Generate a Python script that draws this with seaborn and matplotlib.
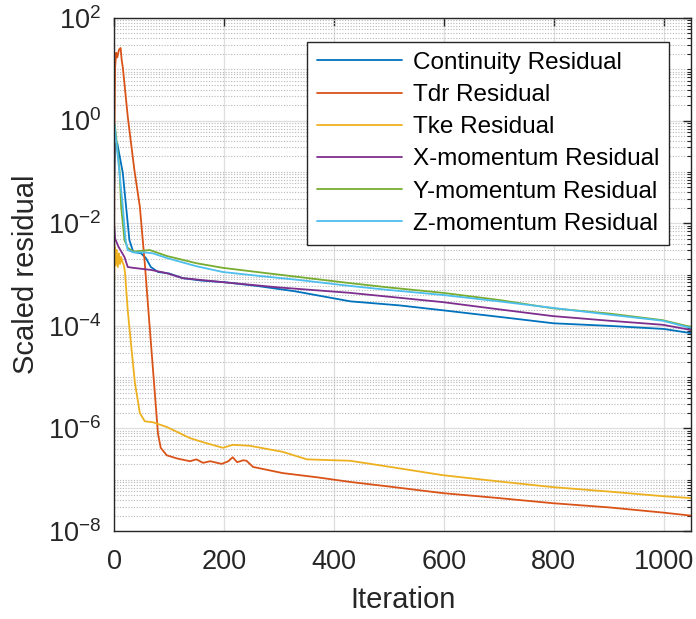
import numpy as np
import pandas as pd
import matplotlib
matplotlib.use("Agg")
import matplotlib.pyplot as plt
import seaborn as sns
from matplotlib.ticker import LogLocator, FixedLocator, LogFormatterMathtext, NullFormatter

# ---------------- data ----------------
series_names = ["Continuity Residual", "Tdr Residual", "Tke Residual",
                "X-momentum Residual", "Y-momentum Residual", "Z-momentum Residual"]
series_colors = ["#0072BD", "#D95319", "#EDB120", "#7E2F8E", "#77AC30", "#4DBEEE"]

cont_iter = [0, 2, 6, 16, 22, 28, 35, 49, 58, 67, 80, 100, 125, 160, 200, 260, 330, 430,
             520, 600, 700, 800, 900, 1000, 1050]
cont_val = [3e-2, 0.35, 0.36, 0.095, 0.021, 4.7e-3, 2.75e-3, 2.6e-3, 2.1e-3, 1.4e-3, 1.12e-3,
            1.05e-3, 8.5e-4, 7.6e-4, 7.1e-4, 6.0e-4, 4.7e-4, 3.0e-4, 2.5e-4, 2.0e-4, 1.5e-4,
            1.12e-4, 1.0e-4, 8.7e-5, 7.2e-5]

tdr_iter = [0, 1, 2, 4, 6, 9, 12, 14, 16, 25, 37, 47, 56, 64, 72, 80, 85, 96, 115, 138, 150,
            162, 175, 196, 208, 216, 224, 235, 241, 253, 307, 369, 429, 500, 598, 700, 798,
            900, 998, 1050]
tdr_val = [3e-4, 1.0, 11, 21, 17, 24, 26, 15, 11, 1.2, 0.11, 0.021, 1.66e-3, 1.26e-4, 1.0e-5,
           7.9e-7, 4.2e-7, 3.0e-7, 2.6e-7, 2.3e-7, 2.5e-7, 2.14e-7, 2.3e-7, 2.04e-7, 2.3e-7,
           2.75e-7, 2.2e-7, 2.4e-7, 2.35e-7, 1.78e-7, 1.35e-7, 1.12e-7, 9.1e-8, 7.4e-8, 5.5e-8,
           4.4e-8, 3.5e-8, 2.9e-8, 2.3e-8, 2.0e-8]

tke_iter = [0, 1, 3, 5, 7, 9, 11, 13, 15, 18, 20, 25, 29, 38, 47, 56, 71, 96, 138, 162, 198,
            216, 247, 307, 351, 429, 500, 598, 700, 798, 900, 998, 1050]
tke_val = [3e-4, 3.5e-3, 1.5e-3, 3.0e-3, 1.4e-3, 2.6e-3, 1.6e-3, 2.2e-3, 1.8e-3, 1.5e-3, 1.1e-3,
           2.0e-4, 7.2e-5, 7.8e-6, 2.0e-6, 1.38e-6, 1.32e-6, 1.07e-6, 6.5e-7, 5.4e-7, 4.2e-7,
           4.8e-7, 4.6e-7, 3.5e-7, 2.5e-7, 2.35e-7, 1.8e-7, 1.23e-7, 9.3e-8, 7.2e-8, 5.9e-8,
           4.8e-8, 4.4e-8]

xm_iter = [0, 2, 8, 19, 25, 35, 67, 95, 125, 198, 300, 429, 598, 700, 798, 900, 998, 1050]
xm_val = [1.0e-2, 5e-3, 3.5e-3, 2.2e-3, 1.4e-3, 1.35e-3, 1.23e-3, 1.07e-3, 8.5e-4, 7.1e-4,
          5.6e-4, 4.4e-4, 2.9e-4, 2.1e-4, 1.55e-4, 1.26e-4, 1.05e-4, 8.3e-5]

ym_iter = [0, 3, 10, 13, 19, 25, 35, 50, 65, 96, 150, 198, 260, 338, 429, 500, 598, 700, 798,
           900, 998, 1050]
ym_val = [1.0, 0.6, 0.11, 0.021, 4.7e-3, 3.3e-3, 2.8e-3, 2.9e-3, 3.0e-3, 2.3e-3, 1.66e-3,
          1.35e-3, 1.12e-3, 8.9e-4, 6.8e-4, 5.6e-4, 4.4e-4, 3.2e-4, 2.2e-4, 1.74e-4, 1.29e-4,
          9.5e-5]

zm_iter = [0, 3, 10, 16, 21, 25, 35, 53, 70, 96, 150, 198, 260, 338, 429, 500, 598, 700, 798,
           900, 998, 1050]
zm_val = [1.0, 0.5, 0.095, 0.021, 4.7e-3, 3.0e-3, 2.7e-3, 2.7e-3, 2.6e-3, 2.1e-3, 1.45e-3,
          1.12e-3, 9.5e-4, 7.8e-4, 6.0e-4, 5.0e-4, 4.0e-4, 3.0e-4, 2.24e-4, 1.66e-4, 1.26e-4,
          9.1e-5]

x_ticks = [0, 200, 400, 600, 800, 1000]
y_ticks = [1e-8, 1e-6, 1e-4, 1e-2, 1e0, 1e2]

# ---------------- build long table ----------------
all_iters = [cont_iter, tdr_iter, tke_iter, xm_iter, ym_iter, zm_iter]
all_vals = [cont_val, tdr_val, tke_val, xm_val, ym_val, zm_val]
frames = []
for name, it, v in zip(series_names, all_iters, all_vals):
    frames.append(pd.DataFrame({"Iteration": it, "Residual": v, "Series": name}))
df = pd.concat(frames, ignore_index=True)

# ---------------- plot ----------------
sns.set_theme(style="white")
plt.rcParams["font.family"] = ["Liberation Sans", "DejaVu Sans"]
plt.rcParams["mathtext.fontset"] = "custom"
plt.rcParams["mathtext.rm"] = "Liberation Sans"
plt.rcParams["mathtext.it"] = "Liberation Sans"
plt.rcParams["mathtext.default"] = "regular"

fig = plt.figure(figsize=(6.96, 6.19), dpi=100)
ax = fig.add_axes([0.1638, 0.142, 0.8292, 0.829])

txt = "#262626"
sns.lineplot(data=df, x="Iteration", y="Residual", hue="Series", hue_order=series_names,
             palette=dict(zip(series_names, series_colors)), estimator=None, sort=False,
             linewidth=1.3, ax=ax, legend=False)

ax.set_yscale("log")
ax.set_xlim(0, 1050)
ax.set_ylim(1e-8, 1e2)
ax.xaxis.set_major_locator(FixedLocator(x_ticks))
ax.yaxis.set_major_locator(FixedLocator(y_ticks))
ax.yaxis.set_major_formatter(LogFormatterMathtext())
ax.yaxis.set_minor_locator(LogLocator(base=10, subs=np.arange(1, 10), numticks=100))
ax.yaxis.set_minor_formatter(NullFormatter())

ax.grid(True, which="major", axis="both", color="#dedede", linewidth=0.9, linestyle="-")
ax.grid(True, which="minor", axis="y", color="#b8b8b8", linewidth=0.8, linestyle=(0, (1, 1.5)))
ax.set_axisbelow(True)

for s in ax.spines.values():
    s.set_color(txt)
    s.set_linewidth(1.0)
    s.set_visible(True)

ax.tick_params(which="both", direction="in", top=True, right=True, colors=txt,
               labelcolor=txt, labelsize=19.5)
ax.tick_params(which="major", length=6, width=1.0)
ax.tick_params(which="minor", length=3, width=0.8)
ax.tick_params(axis="x", pad=13)
ax.tick_params(axis="y", pad=9)

ax.set_xlabel("Iteration", fontsize=21, color=txt, labelpad=8)
ax.set_ylabel("Scaled residual", fontsize=21, color=txt, labelpad=6)

handles = [plt.Line2D([], [], color=c, lw=1.3) for c in series_colors]
leg = ax.legend(handles, series_names, loc="upper right", bbox_to_anchor=(0.962, 0.953),
                bbox_transform=ax.transAxes, borderaxespad=0, fontsize=17.5, frameon=True,
                fancybox=False, framealpha=1, edgecolor=txt, handlelength=3.5,
                handletextpad=0.45, labelspacing=0.42, borderpad=0.4)
leg.get_frame().set_linewidth(1.0)
for t in leg.get_texts():
    t.set_color("black")

fig.savefig("out.png", dpi=100)
